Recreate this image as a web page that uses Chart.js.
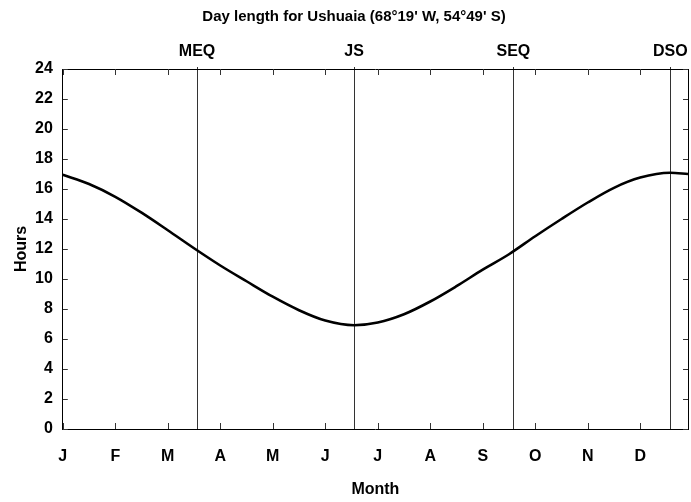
<!DOCTYPE html>
<html>
<head>
<meta charset="utf-8">
<script src="https://cdn.jsdelivr.net/npm/chart.js@4.4.1/dist/chart.umd.min.js"></script>
<style>
    html, body { margin: 0; padding: 0; background: #fff; }
    #wrap { width: 691px; height: 502px; }
</style>
</head>
<body>
<div id="wrap"><canvas id="dayChart"></canvas></div>
<script>
const chartTitle = "Day length for Ushuaia (68°19' W, 54°49' S)";

// Month axis (0 = start of January, one unit per month)
const monthLabels = ['J', 'F', 'M', 'A', 'M', 'J', 'J', 'A', 'S', 'O', 'N', 'D'];
const monthTicks = [0, 1, 2, 3, 4, 5, 6, 7, 8, 9, 10, 11];
const monthMax = 11.91;

// Equinoxes / solstices marked along the top
const eventLabels = ['MEQ', 'JS', 'SEQ', 'DSO'];
const eventPositions = [2.558, 5.549, 8.583, 11.573];

// Day length
const curveMonths = [0, 0.5, 1, 1.5, 2, 2.5, 3, 3.5, 4, 4.5, 5, 5.55, 6, 6.5, 7, 7.5, 8, 8.5, 9, 9.5, 10, 10.5, 11, 11.57, 11.91];
const curveHours = [16.95, 16.33, 15.48, 14.42, 13.25, 12.05, 10.9, 9.85, 8.82, 7.92, 7.23, 6.92, 7.1, 7.65, 8.5, 9.52, 10.62, 11.65, 12.85, 14.0, 15.1, 16.08, 16.76, 17.08, 17.0];

const hourMin = 0;
const hourMax = 24;
const hourStep = 2;

const fontFamily = "'Liberation Sans', Arial, sans-serif";
const boldFont = { family: fontFamily, size: 16, weight: 'bold', lineHeight: 1 };

// Title drawn above the event labels
const titlePlugin = {
    id: 'plotTitle',
    afterDraw(chart) {
        const ctx = chart.ctx;
        ctx.save();
        ctx.fillStyle = '#000';
        ctx.font = 'bold 15px ' + fontFamily;
        ctx.textAlign = 'center';
        ctx.textBaseline = 'middle';
        ctx.fillText(chartTitle, 354, 17);
        ctx.restore();
    }
};

// Short tick marks pointing into the plot on all four sides
const innerTicksPlugin = {
    id: 'innerTicks',
    afterDraw(chart) {
        const { ctx, chartArea: area } = chart;
        const xs = chart.scales.x;
        const ys = chart.scales.y;
        ctx.save();
        ctx.strokeStyle = '#333';
        ctx.lineWidth = 1;
        ctx.beginPath();
        xs.ticks.forEach(t => {
            const px = Math.round(xs.getPixelForValue(t.value)) + 0.5;
            ctx.moveTo(px, area.bottom);
            ctx.lineTo(px, area.bottom - 6);
            ctx.moveTo(px, area.top);
            ctx.lineTo(px, area.top + 6);
        });
        ys.ticks.forEach(t => {
            const py = Math.round(ys.getPixelForValue(t.value)) + 0.5;
            ctx.moveTo(area.left, py);
            ctx.lineTo(area.left + 5, py);
            ctx.moveTo(area.right, py);
            ctx.lineTo(area.right - 5, py);
        });
        ctx.stroke();
        ctx.restore();
    }
};

const ctx = document.getElementById('dayChart').getContext('2d');

const dayChart = new Chart(ctx, {
    type: 'line',
    data: {
        datasets: [{
            data: curveMonths.map((m, i) => ({ x: m, y: curveHours[i] })),
            borderColor: '#000',
            borderWidth: 2.6,
            pointRadius: 0,
            fill: false,
            cubicInterpolationMode: 'monotone',
            xAxisID: 'x',
            yAxisID: 'y'
        }]
    },
    options: {
        responsive: true,
        maintainAspectRatio: false,
        animation: false,
        devicePixelRatio: 1,
        layout: { padding: { top: 37, right: 3, bottom: 4, left: 14 } },
        plugins: {
            legend: { display: false },
            tooltip: { enabled: false }
        },
        scales: {
            x: {
                type: 'linear',
                position: 'bottom',
                min: 0,
                max: monthMax,
                afterBuildTicks: scale => { scale.ticks = monthTicks.map(v => ({ value: v })); },
                ticks: {
                    autoSkip: false,
                    maxRotation: 0,
                    padding: 4,
                    color: '#000',
                    font: boldFont,
                    callback: v => monthLabels[v]
                },
                grid: { display: false, drawTicks: true, tickLength: 16 },
                border: { display: true, color: '#000', width: 1 },
                title: {
                    display: true,
                    text: 'Month',
                    color: '#000',
                    font: boldFont,
                    padding: { top: 13, bottom: 0 }
                }
            },
            x2: {
                type: 'linear',
                position: 'top',
                min: 0,
                max: monthMax,
                afterBuildTicks: scale => { scale.ticks = eventPositions.map(v => ({ value: v })); },
                // DSO sits near the right edge; don't let it shrink the plot
                afterFit: scale => { scale.paddingLeft = 0; scale.paddingRight = 0; },
                ticks: {
                    autoSkip: false,
                    maxRotation: 0,
                    padding: 7,
                    color: '#000',
                    font: boldFont,
                    callback: (v, i) => eventLabels[i]
                },
                grid: {
                    display: true,
                    drawOnChartArea: true,
                    drawTicks: true,
                    tickLength: 2,
                    color: '#333',
                    lineWidth: 1
                },
                border: { display: true, color: '#000', width: 1 }
            },
            y: {
                position: 'left',
                min: hourMin,
                max: hourMax,
                ticks: {
                    stepSize: hourStep,
                    padding: 4,
                    color: '#000',
                    font: boldFont
                },
                grid: { display: false, drawTicks: true, tickLength: 6 },
                border: { display: true, color: '#000', width: 1 },
                title: {
                    display: true,
                    text: 'Hours',
                    color: '#000',
                    font: boldFont,
                    padding: { top: 0, bottom: 1 }
                }
            },
            y2: {
                position: 'right',
                min: hourMin,
                max: hourMax,
                ticks: { display: false },
                grid: { display: false, drawTicks: false },
                border: { display: true, color: '#000', width: 1 }
            }
        }
    },
    plugins: [titlePlugin, innerTicksPlugin]
});
</script>
</body>
</html>
